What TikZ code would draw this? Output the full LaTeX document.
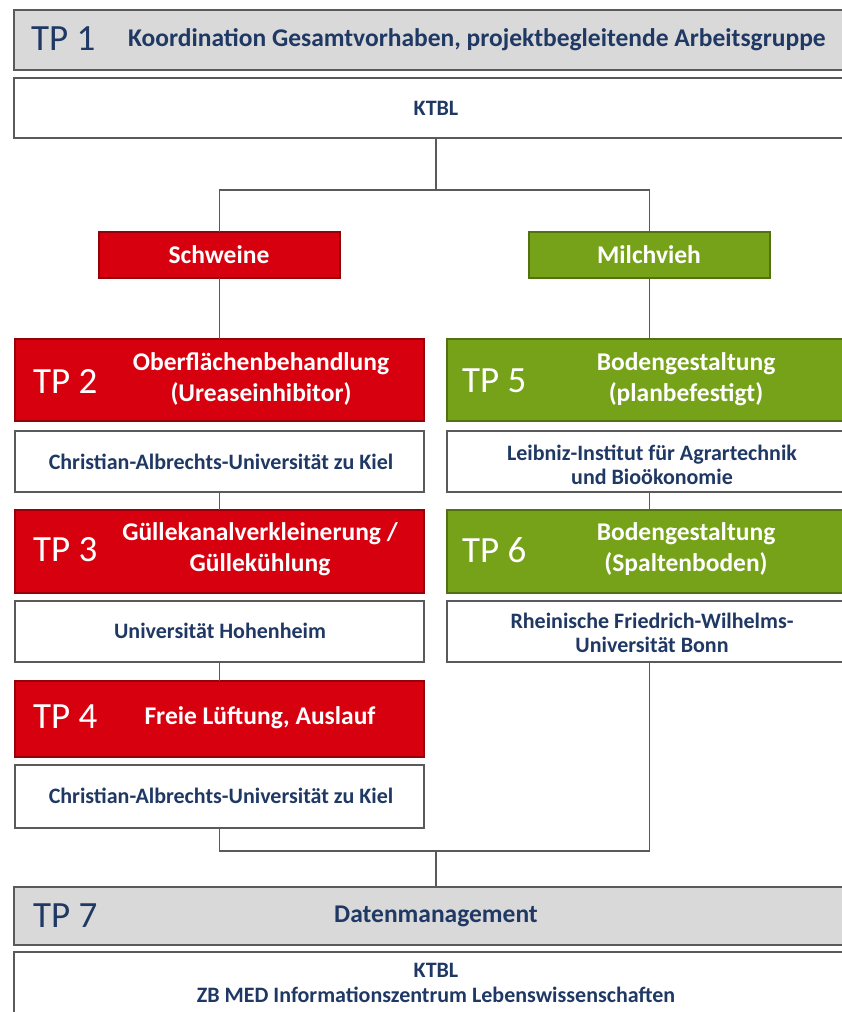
\documentclass[tikz,border=0pt]{standalone}
\usepackage{fontspec}
\setmainfont{Carlito}
\definecolor{navy}{HTML}{1F3864}
\definecolor{tpred}{HTML}{D7000F}
\definecolor{tpgreen}{HTML}{76A21A}
\definecolor{hdrgray}{HTML}{D9D9D9}
\definecolor{edge}{HTML}{5A5A5A}
\begin{document}
\begin{tikzpicture}[x=1pt,y=-1pt,
  box/.style={draw=edge, line width=1.3pt, anchor=north west, inner sep=0pt, outer sep=0pt},
  hdr/.style={box, fill=hdrgray},
  wbox/.style={box, fill=white},
  rbox/.style={box, fill=tpred, draw=tpred!70!black},
  gbox/.style={box, fill=tpgreen, draw=tpgreen!70!black},
  tpl/.style={font=\fontsize{37}{37}\selectfont, inner sep=0pt},
  ttl/.style={font=\fontsize{25.5}{31.5}\selectfont\bfseries, align=center, inner sep=0pt, text=white},
  org/.style={font=\fontsize{22}{24.5}\selectfont\bfseries, align=center, inner sep=0pt, text=navy},
  conn/.style={draw=edge, line width=1.2pt}]
\clip (0,0) rectangle (842,1012);
\fill[white] (0,0) rectangle (842,1012);
% boxes
\node[hdr, minimum width=850pt, minimum height=60pt] (tp1) at (14,10) {};
\node[wbox, minimum width=850pt, minimum height=60pt] (ktbl) at (14,78) {};
\node[rbox, minimum width=241pt, minimum height=46pt] (schw) at (99,232) {};
\node[gbox, minimum width=241pt, minimum height=46pt] (milch) at (529,232) {};
\node[rbox, minimum width=409pt, minimum height=82pt] (tp2) at (15,339) {};
\node[gbox, minimum width=420pt, minimum height=82pt] (tp5) at (447,339) {};
\node[wbox, minimum width=409pt, minimum height=61pt] (cau) at (15,431) {};
\node[wbox, minimum width=420pt, minimum height=61pt] (leib) at (447,431) {};
\node[rbox, minimum width=409pt, minimum height=83pt] (tp3) at (15,510) {};
\node[gbox, minimum width=420pt, minimum height=83pt] (tp6) at (447,510) {};
\node[wbox, minimum width=409pt, minimum height=61pt] (hoh) at (15,601) {};
\node[wbox, minimum width=420pt, minimum height=61pt] (bonn) at (447,601) {};
\node[rbox, minimum width=409pt, minimum height=76pt] (tp4) at (15,681) {};
\node[wbox, minimum width=409pt, minimum height=63pt] (cau2) at (15,765) {};
\node[hdr, minimum width=850pt, minimum height=58pt] (tp7) at (14,887) {};
\node[wbox, minimum width=850pt, minimum height=75pt] (zb) at (14,952) {};
% texts
\node[tpl, text=navy, anchor=west] (t1) at (31,39) {TP 1};
\node[font=\fontsize{25.5}{30}\selectfont\bfseries, text=navy, anchor=west, inner sep=0pt] (t1t) at (128,40) {Koordination Gesamtvorhaben, projektbegleitende Arbeitsgruppe};
\node[org] (k1) at (436,108) {KTBL};
\node[ttl] (sw) at (219,255) {Schweine};
\node[ttl] (mv) at (649,255) {Milchvieh};
\node[tpl, text=white, anchor=west] (l2) at (33,381) {TP 2};
\node[ttl] (t2) at (261,379) {Oberflächenbehandlung\\(Ureaseinhibitor)};
\node[tpl, text=white, anchor=west] (l5) at (462,381) {TP 5};
\node[ttl] (t5) at (686,379) {Bodengestaltung\\(planbefestigt)};
\node[org] (o2) at (221,462) {Christian-Albrechts-Universität zu Kiel};
\node[org] (o5) at (652,465) {Leibniz-Institut für Agrartechnik\\und Bioökonomie};
\node[tpl, text=white, anchor=west] (l3) at (33,550) {TP 3};
\node[ttl] (t3) at (260,549) {Güllekanalverkleinerung /\\Güllekühlung};
\node[tpl, text=white, anchor=west] (l6) at (462,550) {TP 6};
\node[ttl] (t6) at (686,549) {Bodengestaltung\\(Spaltenboden)};
\node[org] (o3) at (220,631) {Universität Hohenheim};
\node[org] (o6) at (652,633) {Rheinische Friedrich-Wilhelms-\\Universität Bonn};
\node[tpl, text=white, anchor=west] (l4) at (33,717) {TP 4};
\node[ttl] (t4) at (260,718) {Freie Lüftung, Auslauf};
\node[org] (o4) at (221,796) {Christian-Albrechts-Universität zu Kiel};
\node[tpl, text=navy, anchor=west] (l7) at (33,916) {TP 7};
\node[ttl, text=navy] (t7) at (436,916) {Datenmanagement};
\node[org] (o7) at (436,983) {KTBL\\ZB MED Informationszentrum Lebenswissenschaften};
% connectors
\coordinate (j1) at (436,190);
\coordinate (j2) at (436,851);
\draw[conn] (ktbl.south -| j1) -- (j1);
\draw[conn] (schw.north) |- (j1) -| (milch.north);
\draw[conn] (schw.south) -- (schw.south |- tp2.north);
\draw[conn] (milch.south) -- (milch.south |- tp5.north);
\draw[conn] (cau.south -| schw.south) -- (tp3.north -| schw.south);
\draw[conn] (leib.south -| milch.south) -- (tp6.north -| milch.south);
\draw[conn] (hoh.south -| schw.south) -- (tp4.north -| schw.south);
\draw[conn] (cau2.south -| schw.south) |- (j2) -| (bonn.south -| milch.south);
\draw[conn] (j2) -- (tp7.north -| j2);
\end{tikzpicture}
\end{document}
